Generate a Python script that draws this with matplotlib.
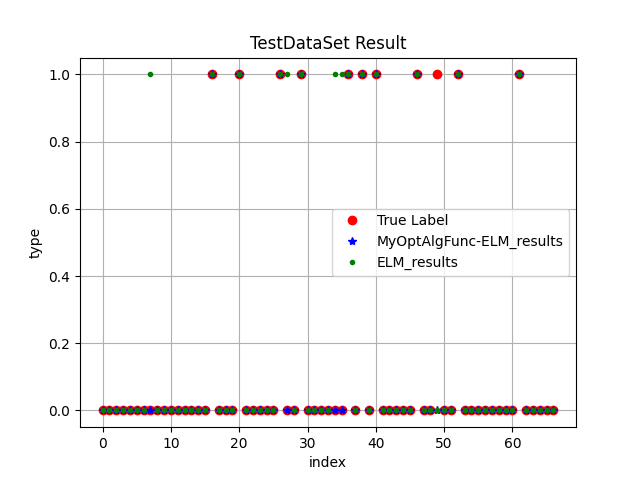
import matplotlib
matplotlib.use("Agg")
from matplotlib import pyplot as plt

n = 67
true_ones = [16, 20, 26, 29, 36, 38, 40, 46, 49, 52, 61]
opt_ones = [16, 20, 26, 29, 36, 38, 40, 46, 52, 61]
elm_ones = [7, 16, 20, 26, 27, 29, 34, 35, 36, 38, 40, 46, 52, 61]

index = list(range(n))
true_label = [1 if i in true_ones else 0 for i in index]
opt_results = [1 if i in opt_ones else 0 for i in index]
elm_results = [1 if i in elm_ones else 0 for i in index]

fig = plt.figure(figsize=(6.4, 4.8), dpi=100)
plt.plot(index, true_label, 'ro', label='True Label')
plt.plot(index, opt_results, 'b*', label='MyOptAlgFunc-ELM_results')
plt.plot(index, elm_results, 'g.', label='ELM_results')
plt.title('TestDataSet Result')
plt.xlabel('index')
plt.ylabel('type')
plt.grid(True)
plt.legend(loc='center right')
plt.savefig('out.png')
